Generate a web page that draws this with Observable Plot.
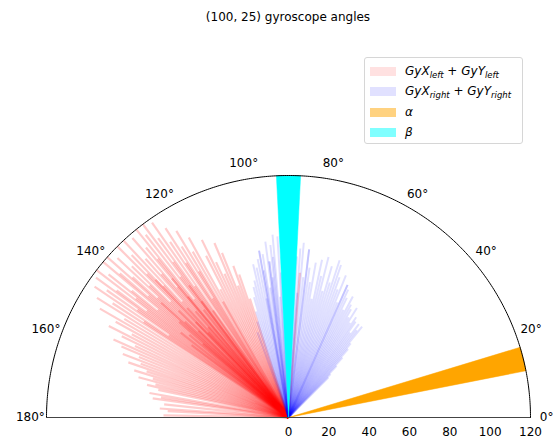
<!DOCTYPE html>
<html><head><meta charset="utf-8">
<script src="https://cdn.jsdelivr.net/npm/d3@7"></script>
<script src="https://cdn.jsdelivr.net/npm/@observablehq/plot@0.6"></script>
<style>
body{margin:0;background:#fff;font-family:"DejaVu Sans",sans-serif;}
#wrap{position:relative;width:553px;height:439px;overflow:hidden;}
#chart{position:absolute;left:0;top:0;}
#title{position:absolute;left:0;top:9px;width:576px;text-align:center;font-size:12px;line-height:16px;color:#000;}
#legend{position:absolute;left:364px;top:57px;width:157px;height:85px;border:1px solid #d6d6d6;border-radius:3px;background:rgba(255,255,255,0.8);font-size:12px;color:#000;}
.row{position:absolute;left:5px;height:20px;display:flex;align-items:center;white-space:nowrap;}
.sw{width:26px;height:9px;margin-right:9px;flex:none;}
.m{font-style:italic;}
.m sub{font-size:8.5px;vertical-align:-3px;line-height:0;}
</style></head>
<body><div id="wrap"><div id="chart"></div><div id="title"></div><div id="legend"></div></div>
<script>
const title = "(100, 25) gyroscope angles";

// left gyroscope: angle (deg) and magnitude
const redAngle = [108,109,110,111,112,113,114,115,116,117,118,119,120,121,121.5,122,123,123.5,124,125,125.5,126,126.5,127,127.5,128,128.5,129,129.5,130,130.5,131,131.5,132,132.5,133,133.5,134,134.5,135,135.5,136,136.5,137,137.5,138,138.5,139,139.5,140,140.5,141,141.5,142,142.5,143,143.5,144,144.5,145,146,146.5,147,148,149,150,151,152,153,154,155,156,157,158,159,160,161,162,163,164,165,166,167,168,170,171,172,174,176,177,179,85.5,
  125.2,126.8,128.2,129.8,131.2,132.8,134.2,135.8,137.2,138.8,140.2,141.8,143.2,130,134,138,127,122.5,119.5,145.5,133.3,136.2,139.3,131.7];
const redLength = [62,75,80,70,88,94,78,85,98,90,72,102,95,108,85,100,112,92,105,118,80,110,96,120,88,115,75,120,102,110,85,118,95,106,78,120,90,112,100,120,82,108,95,116,88,104,120,92,110,120,84,100,114,96,120,88,106,118,92,110,116,86,104,112,95,108,98,88,100,92,84,95,90,80,88,78,84,74,80,70,77,68,72,66,70,64,68,62,64,60,62,72,
  65,72,68,78,70,74,66,76,70,72,64,68,60,90,95,85,82,70,66,72,58,62,56,60];

// right gyroscope: angle (deg) and magnitude
const blueAngle = [92,93,93.5,94,95,95.5,96,96.5,97,97,97.5,98,99,99.5,100,100,100.5,101,102,103,104,105,106,107,108,110,
  88,87,86,86,85,84,83,83,82,81,80,79,78,77,76,75,74,73,72,71,70,69,68,67,66,66,65,64,63,62,61,60,59,58,57,56,55,54,53,52,51,50,49,48,47,46,45];
const blueLength = [88,72,90,60,91,80,86,70,78,78,88,65,82,74,84,84,60,80,76,78,70,67,62,55,50,45,
  86,80,84,62,87,70,84,84,75,68,78,60,80,72,82,65,78,70,82,80,74,68,76,62,72,72,70,66,60,68,64,62,58,64,56,60,58,52,58,55,58,48,45,40,35,30,28];

const alphaAngle = 14;   // deg
const betaAngle = 90;    // deg
const wedgeWidth = 5.73; // deg
const rMax = 120;
const radialTicks = [0,20,40,60,80,100,120];
const angleTicks = [0,20,40,60,80,100,120,140,160,180];

const rad = Math.PI/180;
const polar = (a, r) => ({x: r*Math.cos(a*rad), y: r*Math.sin(a*rad)});
const red = redAngle.map((a,i)=>({a, r: redLength[i]}));
const blue = blueAngle.map((a,i)=>({a, r: blueLength[i]}));
function wedge(center){
  const pts=[{x:0,y:0}];
  for(let t=center-wedgeWidth/2; t<=center+wedgeWidth/2+1e-9; t+=wedgeWidth/20) pts.push(polar(t,rMax));
  pts.push({x:0,y:0});
  return pts;
}
const arc = d3.range(0,180.01,0.5).map(t=>polar(t,rMax));

const chart = Plot.plot({
  width: 553, height: 439,
  marginLeft: 46, marginRight: 23, marginTop: 175, marginBottom: 22,
  x: {domain: [-rMax, rMax], axis: null},
  y: {domain: [0, rMax], axis: null},
  style: {fontFamily: "DejaVu Sans, sans-serif", fontSize: "12px", overflow: "visible", background: "transparent"},
  marks: [
    Plot.link(red, {x1: d=>0, y1: d=>0, x2: d=>polar(d.a,d.r).x, y2: d=>polar(d.a,d.r).y, stroke: "#ff0000", strokeOpacity: 0.2, strokeWidth: 2.2}),
    Plot.link(blue, {x1: d=>0, y1: d=>0, x2: d=>polar(d.a,d.r).x, y2: d=>polar(d.a,d.r).y, stroke: "#0000ff", strokeOpacity: 0.12, strokeWidth: 2}),
    Plot.line(wedge(alphaAngle), {x: "x", y: "y", fill: "#ffa500", stroke: "#ffa500", strokeWidth: 0.5, curve: "linear"}),
    Plot.line(wedge(betaAngle), {x: "x", y: "y", fill: "#00ffff", stroke: "#00ffff", strokeWidth: 0.5, curve: "linear"}),
    Plot.line(arc, {x: "x", y: "y", stroke: "#000", strokeWidth: 1}),
    Plot.ruleY([0], {x1: -rMax, x2: rMax, stroke: "#444", strokeWidth: 1.2}),
    Plot.text(radialTicks, {x: d=>d, y: d=>0, text: d=>String(d), dy: 15, lineAnchor: "middle", fill: "#000"}),
    Plot.text(angleTicks, {x: d=>polar(d,128).x, y: d=>polar(d,128).y, text: d=>d+"°", textAnchor: "middle", lineAnchor: "middle", fill: "#000"})
  ]
});
document.getElementById("chart").appendChild(chart);
document.getElementById("title").textContent = title;

const legendItems = [
  {color: "#ffe1e1", html: '<span class="m">GyX<sub>left</sub></span> + <span class="m">GyY<sub>left</sub></span>'},
  {color: "#e1e1ff", html: '<span class="m">GyX<sub>right</sub></span> + <span class="m">GyY<sub>right</sub></span>'},
  {color: "#ffd280", html: '<span class="m">α</span>'},
  {color: "#80ffff", html: '<span class="m">β</span>'}
];
const tops = [3,23,44,64];
const lg = document.getElementById("legend");
legendItems.forEach((it,i)=>{
  const row = document.createElement("div");
  row.className="row"; row.style.top = tops[i]+"px";
  row.innerHTML = `<div class="sw" style="background:${it.color}"></div><div>${it.html}</div>`;
  lg.appendChild(row);
});
</script>
</body></html>
